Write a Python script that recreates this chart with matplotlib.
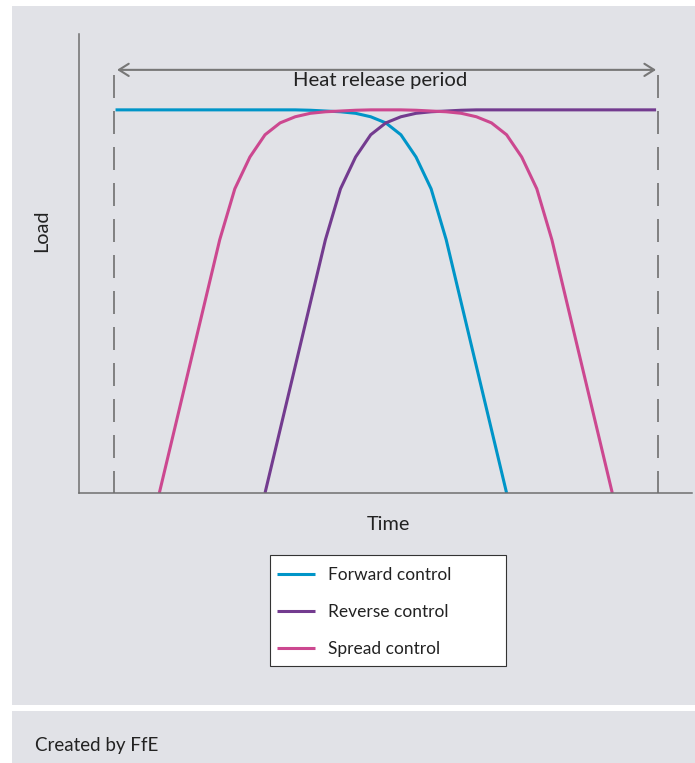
import matplotlib
matplotlib.use("Agg")
import matplotlib.pyplot as plt
from matplotlib.patches import Rectangle

plt.rcParams['font.family'] = ['Lato', 'DejaVu Sans']

# time in steps, heat release period from 0 to 36
period_start, period_end = 0, 36

t_forward = [0.1, 4, 8, 12, 13, 14, 15, 16, 17, 18, 19, 20, 21, 22, 26]
load_forward = [1, 1, 1, 1, 0.999, 0.997, 0.995, 0.991, 0.982, 0.966, 0.935, 0.877, 0.794, 0.661, 0]

t_reverse = [10, 14, 15, 16, 17, 18, 19, 20, 21, 22, 23, 24, 28, 32, 35.9]
load_reverse = [0, 0.661, 0.794, 0.877, 0.935, 0.966, 0.982, 0.991, 0.995, 0.997, 0.999, 1, 1, 1, 1]

t_spread = [3, 7, 8, 9, 10, 11, 12, 13, 14, 15, 16, 17, 18, 19, 20, 21, 22, 23, 24, 25, 26, 27, 28, 29, 33]
load_spread = [0, 0.661, 0.794, 0.877, 0.935, 0.966, 0.982, 0.991, 0.995, 0.997, 0.999, 1.0, 1.0,
               1.0, 0.999, 0.997, 0.995, 0.991, 0.982, 0.966, 0.935, 0.877, 0.794, 0.661, 0]

labels = ['Forward control', 'Reverse control', 'Spread control']
colors = ['#0095c8', '#733b8f', '#cc4890']

W, H = 695, 763
bg = '#e1e2e7'
grey = '#6f6f6f'
txtc = '#222222'

fig = plt.figure(figsize=(W / 100, H / 100), dpi=100)
fig.patch.set_facecolor('white')
# grey panels
fig.patches.append(Rectangle((12 / W, 1 - 705 / H), 1, 699 / H, transform=fig.transFigure,
                             facecolor=bg, edgecolor='none', zorder=-10))
fig.patches.append(Rectangle((12 / W, 0), 1, 52 / H, transform=fig.transFigure,
                             facecolor=bg, edgecolor='none', zorder=-10))
# legend box
fig.patches.append(Rectangle((270 / W, 1 - 666 / H), 236 / W, 111 / H, transform=fig.transFigure,
                             facecolor='white', edgecolor='#333333', lw=0.8, zorder=-5))

ax = fig.add_axes([79 / W, 1 - 493 / H, 613 / W, 459 / H])
ax.set_facecolor('none')
ax.set_xlim(-2.32, 38.28)
ax.set_ylim(0, 1.198)
for s in ['top', 'right']:
    ax.spines[s].set_visible(False)
for s in ['left', 'bottom']:
    ax.spines[s].set_color(grey)
    ax.spines[s].set_linewidth(1.1)
ax.set_xticks([])
ax.set_yticks([])

lines = []
for t, l, c in zip([t_forward, t_reverse, t_spread], [load_forward, load_reverse, load_spread], colors):
    ln, = ax.plot(t, l, color=c, lw=2.2, solid_capstyle='butt', solid_joinstyle='miter')
    lines.append(ln)

# heat release period markers
for x in [period_start, period_end]:
    ax.plot([x, x], [1.091, 0], color=grey, lw=1.2, linestyle=(0, (13.8, 7.8)), clip_on=False)
ax.annotate('', xy=(period_end - 0.1, 1.1044), xytext=(period_start + 0.2, 1.1044),
            arrowprops=dict(arrowstyle='<->,head_length=0.35,head_width=0.22', color='#777777',
                            lw=1.5, mutation_scale=20, shrinkA=0, shrinkB=0))
ax.text((period_start + period_end) / 2 - 0.36, 1.0757, 'Heat release period', ha='center', va='center',
        fontsize=14.6, color=txtc)

fig.text(388 / W, 1 - 524 / H, 'Time', ha='center', va='center', fontsize=14.3, color=txtc)
fig.text(42 / W, 1 - 231 / H, 'Load', ha='center', va='center', rotation=90, fontsize=14.3, color=txtc)
fig.text(35 / W, 1 - 745 / H, 'Created by FfE', ha='left', va='center', fontsize=13.5, color=txtc)

leg = ax.legend(lines, labels, loc='upper left', bbox_to_anchor=(277 / W, 1 - 567 / H),
                bbox_transform=fig.transFigure, frameon=False, fontsize=12.5, borderpad=0,
                handlelength=2.19, handletextpad=0.75, labelspacing=1.21, borderaxespad=0)
for txt in leg.get_texts():
    txt.set_color(txtc)

fig.savefig('out.png', dpi=100)
